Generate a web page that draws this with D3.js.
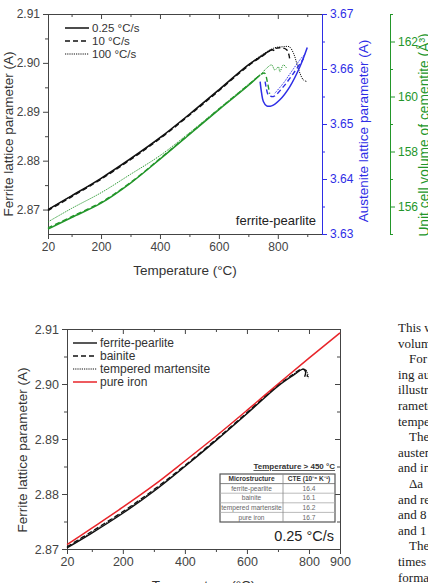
<!DOCTYPE html>
<html>
<head>
<meta charset="utf-8">
<script src="https://cdn.jsdelivr.net/npm/d3@7"></script>
<style>
body { margin: 0; background: #fff; }
svg { display: block; font-family: "Liberation Sans", Arial, sans-serif; }
</style>
</head>
<body>
<svg id="chart" width="428" height="583"></svg>
<script>
// ---- top chart data (ferrite-pearlite, three heating rates) ----
const rateLabels = ["0.25 °C/s", "10 °C/s", "100 °C/s"];

const ferT025 = [20, 100, 200, 300, 400, 500, 600, 700, 750, 780, 788];
const ferA025 = [2.8700, 2.8728, 2.8764, 2.8804, 2.8847, 2.8895, 2.8945, 2.8996, 2.9016, 2.9027, 2.9025];
const ferT10 = [20, 100, 200, 300, 400, 500, 600, 700, 750, 780, 807, 830, 838, 841];
const ferA10 = [2.8698, 2.8726, 2.8762, 2.8802, 2.8845, 2.8893, 2.8943, 2.8994, 2.9015, 2.9027, 2.9031, 2.9027, 2.9016, 2.9003];
const ferT100 = [20, 100, 200, 300, 400, 500, 600, 700, 750, 790, 819, 839, 853, 864, 875, 887, 898];
const ferA100 = [2.8700, 2.8728, 2.8763, 2.8803, 2.8846, 2.8894, 2.8944, 2.8996, 2.9018, 2.9031, 2.9033, 2.9033, 2.9020, 2.9000, 2.8979, 2.8965, 2.8962];

const cemT025 = [20, 100, 200, 300, 400, 500, 600, 700, 740];
const cemV025 = [155.18, 155.60, 156.12, 156.85, 157.72, 158.62, 159.52, 160.40, 160.78];
const cemT10 = [20, 100, 200, 300, 400, 500, 600, 700, 740, 755, 765, 772];
const cemV10 = [155.22, 155.63, 156.15, 156.87, 157.74, 158.64, 159.54, 160.42, 160.78, 160.85, 160.50, 160.10];
const cemT100 = [20, 100, 200, 300, 400, 500, 600, 700, 745, 762, 779, 790, 802, 807, 819, 830];
const cemV100 = [155.44, 155.93, 156.50, 157.17, 157.85, 158.68, 159.56, 160.44, 160.84, 161.03, 161.15, 160.96, 161.08, 160.90, 161.15, 161.03];

const ausT025 = [740, 745, 751, 762, 779, 807, 841, 875, 900];
const ausA025 = [3.6577, 3.6556, 3.6541, 3.6533, 3.6533, 3.6544, 3.6568, 3.6604, 3.6639];
const ausT10 = [757, 761, 768, 785, 819, 853, 887];
const ausA10 = [3.6577, 3.6565, 3.6553, 3.6550, 3.6568, 3.6592, 3.6619];
const ausT100 = [790, 820, 850, 880, 895];
const ausA100 = [3.6556, 3.6575, 3.6598, 3.6620, 3.6628];

const topXLabels = [20, 200, 400, 600, 800];
const topXMinor = [100, 300, 500, 700, 900];
const ferTicks = [2.87, 2.88, 2.89, 2.90, 2.91];
const ferMinor = [2.875, 2.885, 2.895, 2.905];
const ausTicks = [3.63, 3.64, 3.65, 3.66, 3.67];
const ausMinor = [3.635, 3.645, 3.655, 3.665];
const cemTicks = [156, 158, 160, 162];
const cemMinor = [155, 157, 159, 161, 163];

// ---- bottom chart data (0.25 °C/s, microstructures) ----
const microLabels = ["ferrite-pearlite", "bainite", "tempered martensite", "pure iron"];
const fpT = [20, 100, 200, 300, 400, 500, 600, 700, 750, 781, 789, 786];
const fpA = [2.8702, 2.8729, 2.8765, 2.8805, 2.8850, 2.8897, 2.8946, 2.8996, 2.9016, 2.9027, 2.9022, 2.9013];
const baT = [20, 100, 200, 300, 400, 500, 600, 700, 750, 775, 790, 795];
const baA = [2.8704, 2.8732, 2.8768, 2.8808, 2.8852, 2.8899, 2.8948, 2.8998, 2.9018, 2.9027, 2.9025, 2.9013];
const tmT = [20, 100, 200, 300, 400, 500, 600, 700, 750, 770, 785, 795, 798];
const tmA = [2.8703, 2.8731, 2.8767, 2.8807, 2.8851, 2.8898, 2.8947, 2.8997, 2.9018, 2.9024, 2.9027, 2.9020, 2.9010];
const feT = [20, 100, 200, 300, 400, 500, 600, 700, 800, 900];
const feA = [2.8708, 2.8738, 2.8776, 2.8816, 2.8860, 2.8905, 2.8952, 2.9000, 2.9047, 2.9093];

const botXLabels = [20, 200, 400, 600, 800, 900];
const botXMinor = [100, 300, 500, 700];
const botYTicks = [2.87, 2.88, 2.89, 2.90, 2.91];
const botYMinor = [2.875, 2.885, 2.895, 2.905];

const cteTitle = "Temperature > 450 °C";
const cteHeader = ["Microstructure", "CTE (10⁻⁶ K⁻¹)"];
const cteValues = ["16.4", "16.1", "16.2", "16.7"];

// cropped article text at the right edge
const textLines = ["This was", "volume", "For", "ing austenite", "illustrated", "rameters", "temperature",
  "The", "austenite", "and in", "Δa", "and re", "and 8", "and 1", "The", "times", "formation"];
const indented = [2, 7, 10, 14];

const svg = d3.select("#chart");
const axisCol = "#444";
const textCol = "#333";
const blue = "#2e2ee6";
const green = "#23962a";

function styleAxis(g, color) {
  g.select(".domain").attr("stroke", color).attr("stroke-width", 1);
  g.selectAll(".tick line").attr("stroke", color);
  g.selectAll(".tick text").attr("fill", color);
}

// draws major+minor ticks of one axis
function axisPair(maker, scale, pos, majors, minors, fmt, color, fs, label) {
  const g = svg.append("g").attr("transform", pos);
  const a = maker(scale).tickValues(majors).tickSize(5).tickSizeOuter(0).tickPadding(3)
    .tickFormat(label ? fmt : "");
  g.call(a);
  g.selectAll(".tick text").attr("font-size", fs).attr("font-family", null);
  styleAxis(g, color);
  const m = svg.append("g").attr("transform", pos);
  m.call(maker(scale).tickValues(minors).tickSize(3).tickSizeOuter(0).tickFormat(""));
  m.select(".domain").remove();
  m.selectAll(".tick line").attr("stroke", color);
  return g;
}

function series(t, v) { return d3.zip(t, v); }

// ================= top chart =================
const xTop = d3.scaleLinear().domain([20, 950]).range([48, 322]);
const yFer = d3.scaleLinear().domain([2.865, 2.91]).range([234, 14]);
const yAus = d3.scaleLinear().domain([3.63, 3.67]).range([234, 14]);
const yCem = d3.scaleLinear().domain([155, 163]).range([234, 14]);

const f2 = d3.format(".2f");
axisPair(d3.axisBottom, xTop, "translate(0,234)", topXLabels, topXMinor, d3.format("d"), axisCol, 12, true);
axisPair(d3.axisBottom, xTop, "translate(0,14)", topXLabels, topXMinor, null, axisCol, 12, false);
axisPair(d3.axisLeft, yFer, "translate(48,0)", ferTicks, ferMinor, f2, axisCol, 12, true);
axisPair(d3.axisRight, yAus, "translate(322,0)", ausTicks, ausMinor, f2, blue, 12, true);
axisPair(d3.axisRight, yCem, "translate(390,0)", cemTicks, cemMinor, d3.format("d"), green, 12, true);

const dashes = [null, "5,3", "1.2,1"];
const widths = [1.5, 1.4, 1];

const cemSets = [series(cemT025, cemV025), series(cemT10, cemV10), series(cemT100, cemV100)];
const ferSets = [series(ferT025, ferA025), series(ferT10, ferA10), series(ferT100, ferA100)];
const ausSets = [series(ausT025, ausA025), series(ausT10, ausA10), series(ausT100, ausA100)];

function drawSets(sets, x, y, color) {
  const line = d3.line().x(d => x(d[0])).y(d => y(d[1])).curve(d3.curveCatmullRom);
  sets.forEach(function (s, i) {
    svg.append("path").attr("d", line(s)).attr("fill", "none")
      .attr("stroke", color).attr("stroke-width", widths[i])
      .attr("stroke-dasharray", dashes[i]);
  });
}
drawSets(cemSets, xTop, yCem, green);
drawSets(ferSets, xTop, yFer, "#111");
drawSets(ausSets, xTop, yAus, blue);

// top legend
rateLabels.forEach(function (lab, i) {
  const yy = 28 + i * 13;
  svg.append("line").attr("x1", 65).attr("x2", 89).attr("y1", yy).attr("y2", yy)
    .attr("stroke", "#111").attr("stroke-width", widths[i]).attr("stroke-dasharray", dashes[i]);
  svg.append("text").attr("x", 92).attr("y", yy + 4).attr("font-size", 11.5).attr("fill", textCol).text(lab);
});

svg.append("text").attr("x", 316).attr("y", 225).attr("text-anchor", "end")
  .attr("font-size", 13).attr("fill", "#222").text("ferrite-pearlite");

svg.append("text").attr("x", 185).attr("y", 275).attr("text-anchor", "middle")
  .attr("font-size", 13.5).attr("fill", textCol).text("Temperature (°C)");
svg.append("text").attr("transform", "translate(13,134) rotate(-90)").attr("text-anchor", "middle")
  .attr("font-size", 13.5).attr("fill", textCol).text("Ferrite lattice parameter (A)");
svg.append("text").attr("transform", "translate(368,131) rotate(-90)").attr("text-anchor", "middle")
  .attr("font-size", 13.5).attr("fill", blue).text("Austenite lattice parameter (A)");
svg.append("text").attr("transform", "translate(429,135) rotate(-90)").attr("text-anchor", "middle")
  .attr("font-size", 13.8).attr("fill", green).text("Unit cell volume of cementite (Å³)");

// ================= bottom chart =================
const xBot = d3.scaleLinear().domain([20, 900]).range([67, 340]);
const yBot = d3.scaleLinear().domain([2.87, 2.91]).range([549, 329]);

axisPair(d3.axisBottom, xBot, "translate(0,549)", botXLabels, botXMinor, d3.format("d"), axisCol, 12.5, true);
axisPair(d3.axisBottom, xBot, "translate(0,329)", botXLabels, botXMinor, null, axisCol, 12.5, false);
axisPair(d3.axisLeft, yBot, "translate(67,0)", botYTicks, botYMinor, f2, axisCol, 12.5, true);
axisPair(d3.axisLeft, yBot, "translate(340,0)", botYTicks, botYMinor, null, axisCol, 12.5, false);

const botSets = [series(fpT, fpA), series(baT, baA), series(tmT, tmA), series(feT, feA)];
const botColors = ["#111", "#111", "#111", "#e8252a"];
const botDash = [null, "5,3", "1.2,1", null];
const botW = [1.4, 1.3, 1, 1.5];
const lineBot = d3.line().x(d => xBot(d[0])).y(d => yBot(d[1])).curve(d3.curveCatmullRom);
botSets.forEach(function (s, i) {
  svg.append("path").attr("d", lineBot(s)).attr("fill", "none")
    .attr("stroke", botColors[i]).attr("stroke-width", botW[i]).attr("stroke-dasharray", botDash[i]);
});

microLabels.forEach(function (lab, i) {
  const yy = 343 + i * 13;
  svg.append("line").attr("x1", 73).attr("x2", 97).attr("y1", yy).attr("y2", yy)
    .attr("stroke", botColors[i]).attr("stroke-width", botW[i]).attr("stroke-dasharray", botDash[i]);
  svg.append("text").attr("x", 100).attr("y", yy + 4).attr("font-size", 12).attr("fill", textCol).text(lab);
});

// CTE table
const tL = 220, tR = 335, tTop = 474, rowH = 9.6, colX = 283;
const tb = svg.append("g");
tb.append("text").attr("x", tR).attr("y", 469).attr("text-anchor", "end").attr("font-size", 8)
  .attr("font-weight", "bold").attr("fill", "#333").attr("text-decoration", "underline").text(cteTitle);
tb.append("rect").attr("x", tL).attr("y", tTop).attr("width", tR - tL).attr("height", rowH * 5)
  .attr("fill", "#fff").attr("stroke", "#555").attr("stroke-width", 1.2);
for (let r = 1; r < 5; r++) {
  tb.append("line").attr("x1", tL).attr("x2", tR).attr("y1", tTop + r * rowH).attr("y2", tTop + r * rowH)
    .attr("stroke", r === 1 ? "#666" : "#aaa").attr("stroke-width", 0.8);
}
tb.append("line").attr("x1", colX).attr("x2", colX).attr("y1", tTop).attr("y2", tTop + rowH * 5)
  .attr("stroke", "#888").attr("stroke-width", 0.8);
tb.append("text").attr("x", (tL + colX) / 2).attr("y", tTop + rowH * 0.5 + 2.3).attr("text-anchor", "middle")
  .attr("font-size", 6.6).attr("font-weight", "bold").attr("fill", "#333").text(cteHeader[0]);
tb.append("text").attr("x", (colX + tR) / 2).attr("y", tTop + rowH * 0.5 + 2.3).attr("text-anchor", "middle")
  .attr("font-size", 6.6).attr("font-weight", "bold").attr("fill", "#333").text(cteHeader[1]);
microLabels.forEach(function (lab, i) {
  const yy = tTop + rowH * (i + 1.5) + 2.3;
  tb.append("text").attr("x", (tL + colX) / 2).attr("y", yy).attr("text-anchor", "middle")
    .attr("font-size", 6.6).attr("fill", "#666").text(lab);
  tb.append("text").attr("x", (colX + tR) / 2).attr("y", yy).attr("text-anchor", "middle")
    .attr("font-size", 6.6).attr("fill", "#666").text(cteValues[i]);
});

svg.append("text").attr("x", 334).attr("y", 541).attr("text-anchor", "end")
  .attr("font-size", 14.5).attr("fill", "#222").text("0.25 °C/s");

svg.append("text").attr("x", 203.5).attr("y", 590).attr("text-anchor", "middle")
  .attr("font-size", 13.5).attr("fill", textCol).text("Temperature (°C)");
svg.append("text").attr("transform", "translate(27,450) rotate(-90)").attr("text-anchor", "middle")
  .attr("font-size", 13.5).attr("fill", textCol).text("Ferrite lattice parameter (A)");

// article text cut by the page edge
textLines.forEach(function (s, i) {
  svg.append("text").attr("x", indented.includes(i) ? 409 : 398).attr("y", 332 + i * 15.6)
    .attr("font-family", "'Liberation Serif', 'Times New Roman', serif")
    .attr("font-size", 13).attr("fill", "#222").text(s);
});
</script>
</body>
</html>
